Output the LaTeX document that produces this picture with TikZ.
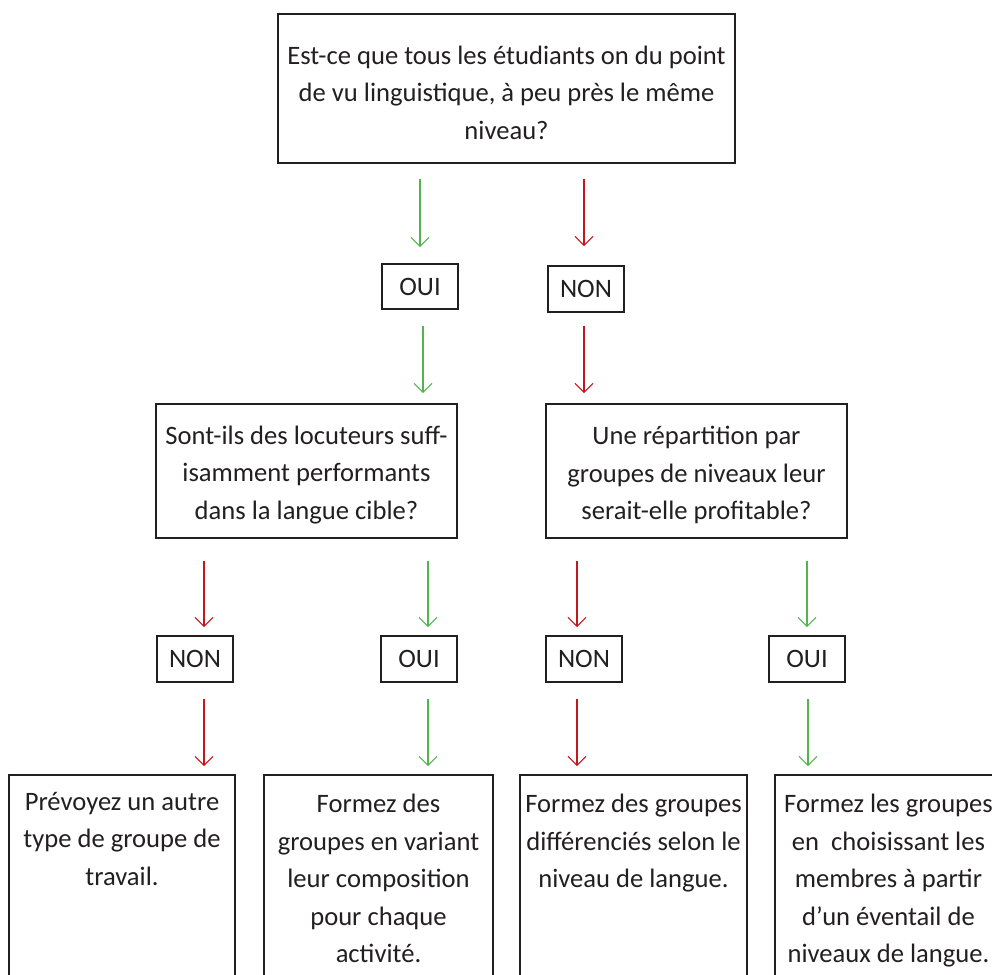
\documentclass[tikz,border=0pt]{standalone}
\usepackage{fontspec}
\setmainfont{Carlito}
\usetikzlibrary{arrows.meta}
\definecolor{ink}{HTML}{231F20}
\definecolor{gr}{HTML}{55B44F}
\definecolor{rd}{HTML}{C4161C}
\tikzset{
  box/.style={draw=ink, line width=1.8pt, text=ink, align=center, inner sep=0pt, rectangle},
  qtxt/.style={text=ink, align=center, inner sep=0pt},
  txt/.style={text=ink, align=center, inner sep=0pt, anchor=north},
  arr/.style={-{Straight Barb[length=9pt,width=18pt]}, line width=1.1pt},
  ga/.style={arr, draw=gr},
  ra/.style={arr, draw=rd},
}
\begin{document}
\begin{tikzpicture}[x=1pt,y=-1pt, font=\fontsize{26.6}{37.5}\selectfont]
\useasboundingbox (0,0) rectangle (992,974);
\clip (0,0) rectangle (992,974);
% top question
\node[box, minimum width=457, minimum height=149] (q0) at (506.5,88.5) {};
\node[qtxt] (q0t) at ([yshift=-4pt]q0.center)
  {Est-ce que tous les étudiants on du point\\de vu linguistique, à peu près le même\\niveau?};
% first answers
\node[box, minimum width=76, minimum height=45] (o1) at (420,286.5) {OUI};
\node[box, minimum width=76, minimum height=46] (n1) at (586,289) {NON};
% second questions
\node[box, minimum width=301, minimum height=134] (m1) at (306.5,471) {};
\node[qtxt] (m1t) at ([yshift=-4pt]m1.center)
  {Sont-ils des locuteurs suff-\\isamment performants\\dans la langue cible?};
\node[box, minimum width=301, minimum height=134] (m2) at (696.5,471) {};
\node[qtxt] (m2t) at ([yshift=-4pt]m2.center)
  {Une répartition par\\groupes de niveaux leur\\serait-elle profitable?};
% third answers
\node[box, minimum width=76, minimum height=46] (n3) at (195,659) {NON};
\node[box, minimum width=76, minimum height=46] (o3) at (419,659) {OUI};
\node[box, minimum width=76, minimum height=46] (n4) at (584,659) {NON};
\node[box, minimum width=76, minimum height=46] (o4) at (807,659) {OUI};
% bottom boxes
\node[box, minimum width=226, minimum height=240] (b1) at (122,895) {};
\node[box, minimum width=229, minimum height=240] (b2) at (378.5,895) {};
\node[box, minimum width=227, minimum height=240] (b3) at (633.5,895) {};
\node[box, minimum width=227, minimum height=240] (b4) at (888.5,895) {};
\node[txt] (t1) at ([yshift=-18pt]b1.north) {Prévoyez un autre\\type de groupe de\\travail.};
\node[txt] (t2) at ([yshift=-20pt]b2.north) {Formez des\\groupes en variant\\leur composition\\pour chaque\\activité.};
\node[txt] (t3) at ([yshift=-20pt]b3.north) {Formez des groupes\\différenciés selon le\\niveau de langue.};
\node[txt] (t4) at ([yshift=-20pt]b4.north) {Formez les groupes\\en\ \ choisissant les\\membres à partir\\d’un éventail de\\niveaux de langue.};
% arrows level 1
\draw[ga, shorten <=15pt, shorten >=16pt] (q0.south -| o1.north) -- (o1.north);
\draw[ra, shorten <=15pt, shorten >=19pt] ([xshift=-2pt]n1.north |- q0.south) -- ([xshift=-2pt]n1.north);
% level 2
\draw[ga, shorten <=16pt, shorten >=10pt] ([xshift=3pt]o1.south) -- ([xshift=3pt]o1.south |- m1.north);
\draw[ra, shorten <=13pt, shorten >=10pt] ([xshift=-2pt]n1.south) -- ([xshift=-2pt]n1.south |- m2.north);
% level 3
\draw[ra, shorten <=22pt, shorten >=8pt] ([xshift=9pt]n3.north |- m1.south) -- ([xshift=9pt]n3.north);
\draw[ga, shorten <=22pt, shorten >=8pt] ([xshift=9pt]o3.north |- m1.south) -- ([xshift=9pt]o3.north);
\draw[ra, shorten <=22pt, shorten >=8pt] ([xshift=-7pt]n4.north |- m2.south) -- ([xshift=-7pt]n4.north);
\draw[ga, shorten <=22pt, shorten >=8pt] (o4.north |- m2.south) -- (o4.north);
% level 4
\draw[ra, shorten <=16pt, shorten >=8pt] ([xshift=9pt]n3.south) -- ([xshift=9pt]n3.south |- b1.north);
\draw[ga, shorten <=16pt, shorten >=8pt] ([xshift=9pt]o3.south) -- ([xshift=9pt]o3.south |- b2.north);
\draw[ra, shorten <=16pt, shorten >=8pt] ([xshift=-7pt]n4.south) -- ([xshift=-7pt]n4.south |- b3.north);
\draw[ga, shorten <=16pt, shorten >=8pt] ([xshift=1pt]o4.south) -- ([xshift=1pt]o4.south |- b4.north);
\end{tikzpicture}
\end{document}
